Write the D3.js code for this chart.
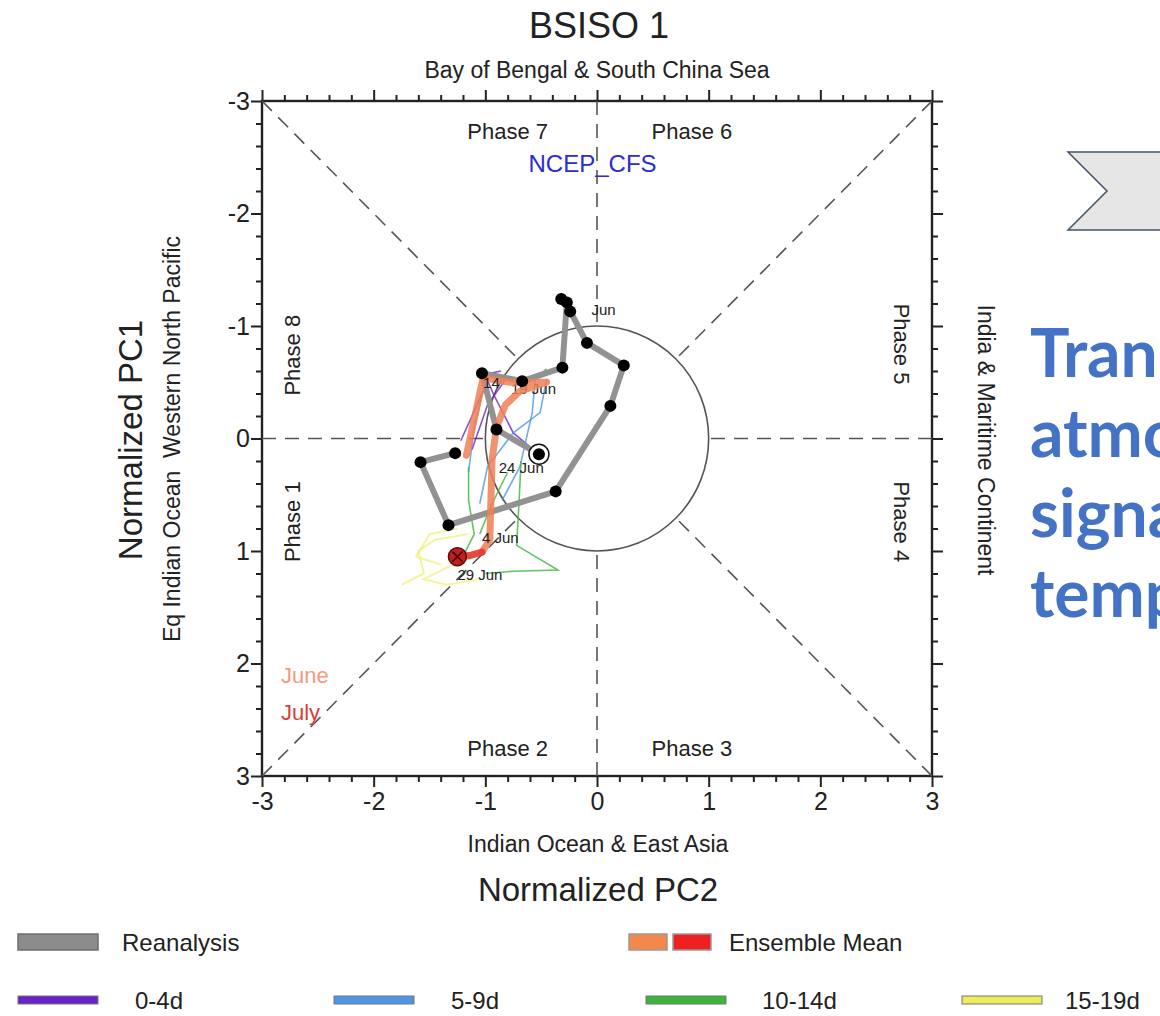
<!DOCTYPE html>
<html>
<head>
<meta charset="utf-8">
<script src="https://cdn.jsdelivr.net/npm/d3@7"></script>
<style>
  html, body { margin: 0; padding: 0; background: #fff; overflow: hidden; }
  svg { display: block; }
  text { font-family: "Liberation Sans", Arial, Helvetica, sans-serif; }
</style>
</head>
<body>
<svg id="chart" width="1160" height="1016"></svg>
<script>
// ---------------- DATA ----------------
const axisTicks = [-3, -2, -1, 0, 1, 2, 3];
const tickLabels = ["-3", "-2", "-1", "0", "1", "2", "3"];

// Reanalysis trajectory: PC2 (x) and PC1 (y)
const reanalysisPC2 = [-1.27, -1.58, -1.33, -0.37, 0.12, 0.24, -0.09, -0.24, -0.32, -0.27, -0.31, -0.67, -1.03, -0.90, -0.52];
const reanalysisPC1 = [0.13, 0.21, 0.77, 0.47, -0.29, -0.65, -0.85, -1.13, -1.24, -1.21, -0.63, -0.51, -0.58, -0.08, 0.14];

// Ensemble mean: June (orange) and July (red) parts
const meanJunePC2 = [-1.17, -1.08, -1.02, -0.78, -0.45, -0.69, -0.82, -0.90, -0.94, -0.95, -0.96, -1.03];
const meanJunePC1 = [0.15, -0.26, -0.54, -0.50, -0.50, -0.42, -0.30, -0.10, 0.19, 0.55, 0.90, 1.01];
const meanJulyPC2 = [-1.03, -1.14, -1.25];
const meanJulyPC1 = [1.01, 1.04, 1.05];

// Ensemble members by lead time ([PC2, PC1] pairs)
const lead0to4 = [
  [[-0.52, 0.14], [-0.75, -0.05], [-0.93, -0.40], [-1.00, -0.56]],
  [[-1.22, 0.02], [-1.06, -0.33], [-0.95, -0.58], [-0.86, -0.60]],
  [[-1.12, 0.10], [-0.98, -0.30], [-0.80, -0.55]]
];
const lead5to9 = [
  [[-0.55, -0.56], [-0.58, -0.23], [-0.69, 0.25], [-0.85, 0.55]],
  [[-0.45, -0.53], [-0.51, -0.23], [-0.75, -0.05], [-0.98, 0.25], [-1.05, 0.58]],
  [[-1.00, -0.50], [-1.10, -0.10], [-1.15, 0.30]]
];
const lead10to14 = [
  [[-1.15, 0.25], [-1.15, 0.55], [-1.10, 0.85], [-1.20, 1.05]],
  [[-0.80, 0.30], [-0.95, 0.60], [-1.05, 0.85]],
  [[-0.68, 0.20], [-0.70, 0.60], [-0.72, 0.95], [-0.35, 1.17], [-0.75, 1.18], [-1.00, 1.20]],
  [[-0.45, -0.62], [-0.60, -0.50]]
];
const lead15to19 = [
  [[-1.15, 0.85], [-1.45, 0.90], [-1.60, 1.00], [-1.55, 1.20], [-1.75, 1.30]],
  [[-1.10, 1.05], [-1.35, 1.15], [-1.55, 1.25], [-1.35, 1.30], [-1.05, 1.25]],
  [[-1.25, 0.80], [-1.50, 0.85], [-1.62, 1.05], [-1.40, 1.12]]
];

// Date labels along the trajectory
const dateLabels = ["Jun", "14", "19 Jun", "24 Jun", "4 Jun", "29 Jun"];
const dateLabelPC2 = [-0.05, -1.02, -0.77, -0.88, -1.03, -1.25];
const dateLabelPC1 = [-1.10, -0.45, -0.40, 0.31, 0.93, 1.26];
const dateLabelOnTop = [true, true, false, true, true, true];

const phaseLabels = ["Phase 7", "Phase 6", "Phase 2", "Phase 3"];
const sidePhaseLabels = ["Phase 8", "Phase 1", "Phase 5", "Phase 4"];

const legendRow1 = ["Reanalysis", "Ensemble Mean"];
const legendRow2 = ["0-4d", "5-9d", "10-14d", "15-19d"];
const leadColors = ["#6a22c8", "#4f95e6", "#3db53d", "#eded5a"];

const sideText = ["Tran", "atmo", "signa", "temp"];

// ---------------- DRAW ----------------
const svg = d3.select("#chart");
const x = d3.scaleLinear().domain([-3, 3]).range([262, 932]);
const y = d3.scaleLinear().domain([-3, 3]).range([101, 776]);

const minorTicks = d3.range(-3, 3.001, 0.2).map(v => Math.round(v * 10) / 10)
  .filter(v => Math.abs(v - Math.round(v)) > 1e-6);

function styleAxis(g) {
  g.select(".domain").remove();
  g.selectAll(".tick line").attr("stroke", "#222").attr("stroke-width", 2);
  g.selectAll(".tick text").attr("fill", "#222").style("font-size", "25px")
    .style("font-family", '"Liberation Sans", Arial, sans-serif');
}

// minor ticks
svg.append("g").attr("transform", `translate(0,${y(-3)})`)
  .call(d3.axisTop(x).tickValues(minorTicks).tickSize(6).tickFormat(""))
  .call(styleAxis);
svg.append("g").attr("transform", `translate(0,${y(3)})`)
  .call(d3.axisBottom(x).tickValues(minorTicks).tickSize(6).tickFormat(""))
  .call(styleAxis);
svg.append("g").attr("transform", `translate(${x(-3)},0)`)
  .call(d3.axisLeft(y).tickValues(minorTicks).tickSize(6).tickFormat(""))
  .call(styleAxis);
svg.append("g").attr("transform", `translate(${x(3)},0)`)
  .call(d3.axisRight(y).tickValues(minorTicks).tickSize(6).tickFormat(""))
  .call(styleAxis);

// major ticks
svg.append("g").attr("transform", `translate(0,${y(-3)})`)
  .call(d3.axisTop(x).tickValues(axisTicks).tickSize(11).tickFormat(""))
  .call(styleAxis);
svg.append("g").attr("transform", `translate(0,${y(3)})`)
  .call(d3.axisBottom(x).tickValues(axisTicks).tickSize(11).tickPadding(5)
    .tickFormat((d, i) => tickLabels[i]))
  .call(styleAxis);
svg.append("g").attr("transform", `translate(${x(-3)},0)`)
  .call(d3.axisLeft(y).tickValues(axisTicks).tickSize(11).tickPadding(1)
    .tickFormat((d, i) => tickLabels[i]))
  .call(styleAxis);
svg.append("g").attr("transform", `translate(${x(3)},0)`)
  .call(d3.axisRight(y).tickValues(axisTicks).tickSize(11).tickFormat(""))
  .call(styleAxis);

// frame
svg.append("rect")
  .attr("x", x(-3)).attr("y", y(-3))
  .attr("width", x(3) - x(-3)).attr("height", y(3) - y(-3))
  .attr("fill", "none").attr("stroke", "#222").attr("stroke-width", 2.4);

// dashed phase dividers (from frame to unit circle)
const r45 = Math.SQRT1_2;
const dividers = [
  [[-3, -3], [-r45, -r45]], [[3, -3], [r45, -r45]],
  [[-3, 3], [-r45, r45]], [[3, 3], [r45, r45]],
  [[0, -3], [0, -1]], [[0, 3], [0, 1]],
  [[-3, 0], [-1, 0]], [[3, 0], [1, 0]]
];
svg.append("g").selectAll("line").data(dividers).join("line")
  .attr("x1", d => x(d[0][0])).attr("y1", d => y(d[0][1]))
  .attr("x2", d => x(d[1][0])).attr("y2", d => y(d[1][1]))
  .attr("stroke", "#555").attr("stroke-width", 1.6)
  .attr("stroke-dasharray", "14,9");

// unit circle
svg.append("ellipse")
  .attr("cx", x(0)).attr("cy", y(0))
  .attr("rx", x(1) - x(0)).attr("ry", y(1) - y(0))
  .attr("fill", "none").attr("stroke", "#555").attr("stroke-width", 1.6);

// phase labels
const phasePos = [[-0.8, -2.66], [0.85, -2.66], [-0.8, 2.82], [0.85, 2.82]];
svg.append("g").selectAll("text").data(phaseLabels).join("text")
  .attr("x", (d, i) => x(phasePos[i][0])).attr("y", (d, i) => y(phasePos[i][1]))
  .attr("text-anchor", "middle").style("font-size", "22px").attr("fill", "#222")
  .text(d => d);

const sidePos = [[-2.73, -0.74, -90], [-2.73, 0.74, -90], [2.73, -0.84, 90], [2.73, 0.74, 90]];
svg.append("g").selectAll("text").data(sidePhaseLabels).join("text")
  .attr("transform", (d, i) => `translate(${x(sidePos[i][0]) + (sidePos[i][2] < 0 ? 8 : -8)},${y(sidePos[i][1])}) rotate(${sidePos[i][2]})`)
  .attr("text-anchor", "middle").style("font-size", "22px").attr("fill", "#222")
  .text(d => d);

svg.append("text").attr("x", x(-0.04)).attr("y", y(-2.37))
  .attr("text-anchor", "middle").style("font-size", "24px").attr("fill", "#2b2bd8")
  .text("NCEP_CFS");

// June / July legend inside
svg.append("text").attr("x", x(-2.83)).attr("y", y(2.17))
  .style("font-size", "22px").attr("fill", "#f39a7e").text("June");
svg.append("text").attr("x", x(-2.83)).attr("y", y(2.50))
  .style("font-size", "22px").attr("fill", "#d8413a").text("July");

// member lines
const lineGen = d3.line().x(d => x(d[0])).y(d => y(d[1]));
[lead0to4, lead5to9, lead10to14, lead15to19].forEach((group, gi) => {
  svg.append("g").selectAll("path").data(group).join("path")
    .attr("d", lineGen).attr("fill", "none")
    .attr("stroke", leadColors[gi]).attr("stroke-width", gi === 3 ? 2 : 1.6)
    .attr("stroke-opacity", gi === 3 ? 0.6 : 0.8);
});

// reanalysis
const rea = reanalysisPC2.map((v, i) => [v, reanalysisPC1[i]]);
svg.append("path").attr("d", lineGen(rea)).attr("fill", "none")
  .attr("stroke", "#929292").attr("stroke-width", 6).attr("stroke-linejoin", "round");

const labelIdx = dateLabels.map((d, i) => i);
function drawLabels(filterFn) {
  svg.append("g").selectAll("text").data(labelIdx.filter(filterFn)).join("text")
    .attr("x", i => x(dateLabelPC2[i])).attr("y", i => y(dateLabelPC1[i]))
    .style("font-size", "15px").attr("fill", "#222").text(i => dateLabels[i]);
}
// labels lying beneath the mean line
drawLabels(i => !dateLabelOnTop[i]);

// ensemble mean
const meanJune = meanJunePC2.map((v, i) => [v, meanJunePC1[i]]);
const meanJuly = meanJulyPC2.map((v, i) => [v, meanJulyPC1[i]]);
svg.append("path").attr("d", lineGen(meanJune)).attr("fill", "none")
  .attr("stroke", "#f07f55").attr("stroke-width", 7).attr("stroke-opacity", 0.85)
  .attr("stroke-linejoin", "round").attr("stroke-linecap", "round");
svg.append("path").attr("d", lineGen(meanJuly)).attr("fill", "none")
  .attr("stroke", "#e4352b").attr("stroke-width", 7).attr("stroke-opacity", 0.9)
  .attr("stroke-linecap", "round");

// labels on top
drawLabels(i => dateLabelOnTop[i]);

// reanalysis dots
svg.append("g").selectAll("circle").data(rea.slice(0, -1)).join("circle")
  .attr("cx", d => x(d[0])).attr("cy", d => y(d[1])).attr("r", 6).attr("fill", "#000");

// start marker (last reanalysis point, circled)
const last = rea[rea.length - 1];
svg.append("circle").attr("cx", x(last[0])).attr("cy", y(last[1])).attr("r", 10)
  .attr("fill", "#fff").attr("stroke", "#111").attr("stroke-width", 1.5);
svg.append("circle").attr("cx", x(last[0])).attr("cy", y(last[1])).attr("r", 6).attr("fill", "#000");

// ensemble mean end marker
const endM = meanJuly[meanJuly.length - 1];
svg.append("circle").attr("cx", x(endM[0])).attr("cy", y(endM[1])).attr("r", 9)
  .attr("fill", "#c41e1e").attr("stroke", "#5a0a0a").attr("stroke-width", 1.5);
svg.append("path")
  .attr("d", `M${x(endM[0]) - 5},${y(endM[1]) - 5}L${x(endM[0]) + 5},${y(endM[1]) + 5}M${x(endM[0]) - 5},${y(endM[1]) + 5}L${x(endM[0]) + 5},${y(endM[1]) - 5}`)
  .attr("stroke", "#3a0000").attr("stroke-width", 1.5);

// titles
svg.append("text").attr("x", 599).attr("y", 38).attr("text-anchor", "middle")
  .style("font-size", "36px").attr("fill", "#222").text("BSISO 1");
svg.append("text").attr("x", 597).attr("y", 78).attr("text-anchor", "middle")
  .style("font-size", "23px").attr("fill", "#222").text("Bay of Bengal & South China Sea");
svg.append("text").attr("x", 598).attr("y", 852).attr("text-anchor", "middle")
  .style("font-size", "23px").attr("fill", "#222").text("Indian Ocean & East Asia");
svg.append("text").attr("x", 598).attr("y", 901).attr("text-anchor", "middle")
  .style("font-size", "33px").attr("fill", "#222").text("Normalized PC2");
svg.append("text").attr("transform", "translate(142,440) rotate(-90)").attr("text-anchor", "middle")
  .style("font-size", "33px").attr("fill", "#222").text("Normalized PC1");
svg.append("text").attr("transform", "translate(180,439) rotate(-90)").attr("text-anchor", "middle")
  .style("font-size", "23px").style("white-space", "pre").attr("fill", "#222")
  .text("Eq Indian Ocean  Western North Pacific");
svg.append("text").attr("transform", "translate(978,440) rotate(90)").attr("text-anchor", "middle")
  .style("font-size", "23px").attr("fill", "#222").text("India & Maritime Continent");

// legend
const lg = svg.append("g");
lg.append("rect").attr("x", 18).attr("y", 934).attr("width", 80).attr("height", 16)
  .attr("fill", "#8c8c8c").attr("stroke", "#6e6e6e").attr("stroke-width", 1.5);
lg.append("rect").attr("x", 629).attr("y", 934).attr("width", 38).attr("height", 16)
  .attr("fill", "#f4884c").attr("stroke", "#9a9a9a").attr("stroke-width", 1.5);
lg.append("rect").attr("x", 673).attr("y", 934).attr("width", 38).attr("height", 16)
  .attr("fill", "#ee2020").attr("stroke", "#9a9a9a").attr("stroke-width", 1.5);
const row1X = [122, 729];
lg.selectAll("text.r1").data(legendRow1).join("text").attr("class", "r1")
  .attr("x", (d, i) => row1X[i]).attr("y", 951).style("font-size", "24px").attr("fill", "#222")
  .text(d => d);
const row2BarX = [18, 334, 646, 962];
const row2TextX = [135, 451, 762, 1065];
lg.selectAll("rect.r2").data(legendRow2).join("rect").attr("class", "r2")
  .attr("x", (d, i) => row2BarX[i]).attr("y", 996).attr("width", 80).attr("height", 8)
  .attr("fill", (d, i) => leadColors[i]).attr("stroke", "#777").attr("stroke-width", 1);
lg.selectAll("text.r2").data(legendRow2).join("text").attr("class", "r2")
  .attr("x", (d, i) => row2TextX[i]).attr("y", 1009).style("font-size", "24px").attr("fill", "#222")
  .text(d => d);

// right-hand slide content (chevron and partial text, cropped at the page edge as in the reference)
svg.append("polygon")
  .attr("points", "1068,152 1175,152 1175,230 1068,230 1107,191")
  .attr("fill", "#e7e6e6").attr("stroke", "#44546a").attr("stroke-width", 1.5);
svg.append("g").selectAll("text").data(sideText).join("text")
  .attr("x", 1030).attr("y", (d, i) => 377 + i * 80)
  .style("font-family", "Lato, 'Open Sans', sans-serif").style("font-weight", "bold")
  .style("font-size", "66px").attr("fill", "#4472c4").text(d => d);
</script>
</body>
</html>
